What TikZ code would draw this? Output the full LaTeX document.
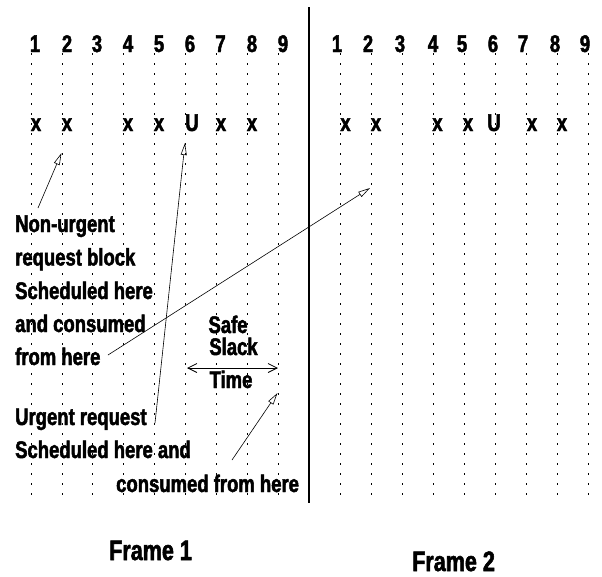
\documentclass[tikz,border=0pt]{standalone}
\usepackage{fontspec}
\newfontfamily\lbfam[FakeStretch=0.77,FakeBold=2]{Liberation Sans Bold}
\usetikzlibrary{arrows.meta}
\newcommand\lblfont{\lbfam\fontsize{24}{30}\selectfont}
\newcommand\frmfont{\lbfam\fontsize{28}{34}\selectfont}
\begin{document}
\begin{tikzpicture}[x=1pt,y=-1pt,
  dotline/.style={line width=0.6pt, dash pattern=on 1.8pt off 8.2pt},
  lbl/.style={font=\lblfont, inner sep=0pt, anchor=base west},
  num/.style={font=\lblfont, inner sep=0pt, anchor=base},
  frm/.style={font=\frmfont, inner sep=0pt, anchor=base west},
  ptr/.style={line width=0.6pt, -{Triangle[open,length=12pt,width=6pt]}},
  slack/.style={line width=0.8pt, {Straight Barb[length=9pt,width=9pt]}-{Straight Barb[length=9pt,width=9pt]}},
  divider/.style={line width=1.3pt}]
\useasboundingbox (0,0) rectangle (602,576);
% dotted grid
\foreach \x in {31,62,92,123,154,185,216,247,278,340,371,402,433,464,495,526,557,588}
  \draw[dotline] (\x,53) -- (\x,497);
% divider
\coordinate (dtop) at (309,7);
\coordinate (dbot) at (309,503);
\draw[divider] (dtop) -- (dbot);
% slot numbers
\foreach \x [count=\i] in {35,67,97,128,159,190,220.5,252,283}
  \node[num] (na\i) at (\x,52) {\i};
\foreach \x [count=\i] in {337,368,400,433,462,493,523,555,585}
  \node[num] (nb\i) at (\x,52) {\i};
% blocks frame 1
\node[num] (a1) at (36,131) {x};
\node[num] (a2) at (67,131) {x};
\node[num] (a4) at (128,131) {x};
\node[num] (a5) at (159,131) {x};
\node[num] (a6) at (192,131) {U};
\node[num] (a7) at (221,131) {x};
\node[num] (a8) at (252,131) {x};
% blocks frame 2
\node[num] (b1) at (345.5,131) {x};
\node[num] (b2) at (376,131) {x};
\node[num] (b4) at (437.5,131) {x};
\node[num] (b5) at (468,131) {x};
\node[num] (b6) at (494,131) {U};
\node[num] (b7) at (532,131) {x};
\node[num] (b8) at (562,131) {x};
% non-urgent text
\node[lbl] (nu1) at (15,232) {Non-urgent};
\node[lbl] (nu2) at (15,265.5) {request block};
\node[lbl] (nu3) at (15,299) {Scheduled here};
\node[lbl] (nu4) at (15,332) {and consumed};
\node[lbl] (nu5) at (15,365) {from here};
% urgent text
\node[lbl] (ur1) at (15,425) {Urgent request};
\node[lbl] (ur2) at (15,458) {Scheduled here and};
\node[lbl] (ur3) at (116,492) {consumed from here};
% safe slack time
\node[num] (ss1) at (228,333) {Safe};
\node[num] (ss2) at (233.5,355) {Slack};
\node[num] (ss3) at (231,388) {Time};
% frame labels
\node[frm] (f1) at (109,560) {Frame 1};
\node[frm] (f2) at (412,571) {Frame 2};
% arrows
\coordinate (nuS) at (38,208);
\coordinate (nuT) at (61.5,153);
\draw[ptr] (nuS) -- (nuT);
\coordinate (urS) at (155,423);
\coordinate (urT) at (185,143);
\draw[ptr] (urS) -- (urT);
\coordinate (lgS) at (108,355);
\coordinate (lgT) at (370,188);
\draw[ptr] (lgS) -- (lgT);
\coordinate (slL) at (187,368);
\coordinate (slR) at (278,368);
\draw[slack] (slL) -- (slR);
\coordinate (cfS) at (232,460);
\coordinate (cfT) at (277.5,393);
\draw[ptr] (cfS) -- (cfT);
\end{tikzpicture}
\end{document}
